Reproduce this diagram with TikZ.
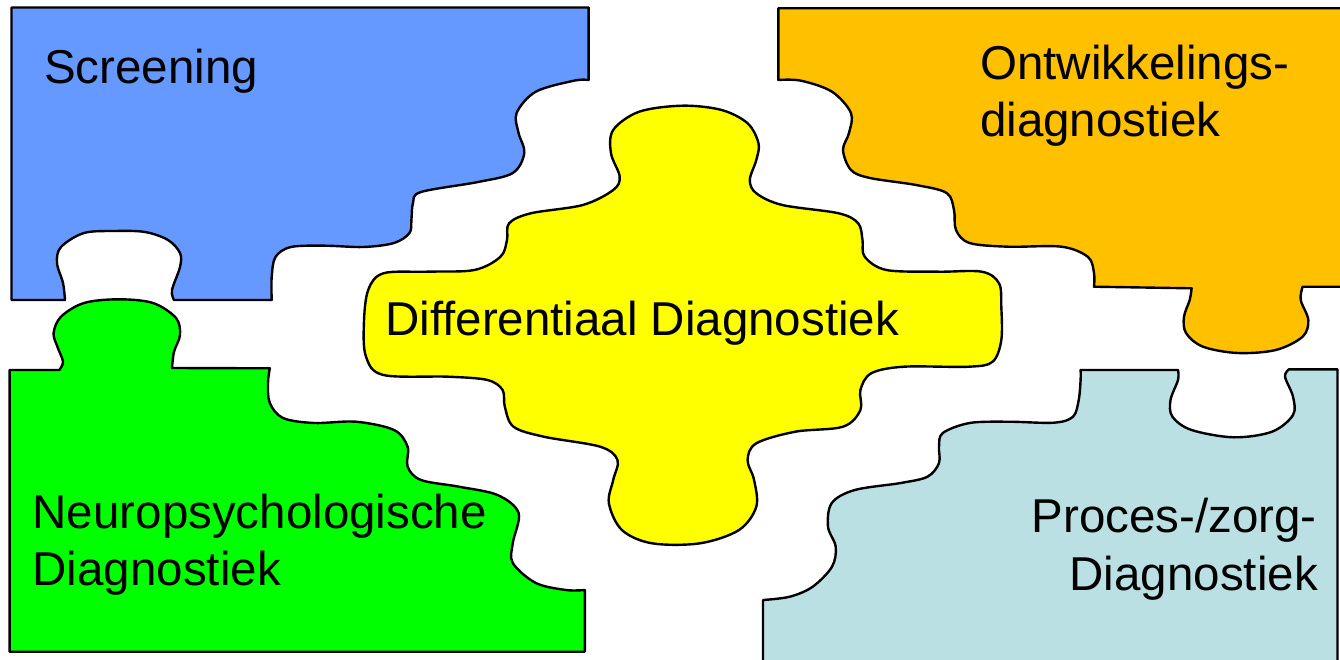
\documentclass[tikz,border=0pt]{standalone}
\usepackage{fontspec}
\setmainfont{Liberation Sans}
\definecolor{pblue}{HTML}{6699FF}
\definecolor{porange}{HTML}{FFC000}
\definecolor{pgreen}{HTML}{00FF00}
\definecolor{pyellow}{HTML}{FFFF00}
\definecolor{plight}{HTML}{BBE0E3}
\begin{document}
\begin{tikzpicture}[x=1pt,y=-1pt,
  piece/.style={draw=black,line width=2.4pt,line join=round},
  wave/.style={smooth,tension=0.55},
  lbl/.style={inner sep=0pt,font=\fontsize{47.5}{57}\selectfont}]
\useasboundingbox (0,0) rectangle (1340,660);
% blue: Screening
\draw[piece,fill=pblue] (11.5,7.5) -- (588.6,7.5) -- (588.6,80)
  -- plot[wave] coordinates {(588.6,80) (574,80.7) (535.8,91.7) (516.6,113) (518.6,133) (524.3,153) (512.8,173) (478,182) (421,192) (413,203) (411.4,220) (409.5,233) (394,243) (363.6,247) (325,245.7) (291,247) (275.5,257) (271.7,277) (271.7,300)}
  -- (174,300)
  -- plot[wave] coordinates {(174,300) (172,290) (180,267) (180,253) (168,240) (145,232) (115,231) (84,233) (61,247) (57,263) (63,283) (65,300)}
  -- (11.5,300) -- cycle;
% green: Neuropsychologische
\draw[piece,fill=pgreen] (9.6,651.7) -- (9.6,370) -- (59.3,370)
  -- plot[wave] coordinates {(59.3,370) (63,361.7) (57.4,346.7) (53.6,333) (61,316.7) (84,303) (118.6,299.3) (153,303) (176,318) (180,335) (174,351.7) (172,368)}
  -- (269.8,368.3)
  -- plot[wave] coordinates {(269.8,368.3) (268,383) (269.8,403) (283,418) (314,423) (356,421.7) (394,430) (407.6,446.7) (407.6,466.7) (421,480) (459,486.7) (497.5,495) (518.6,513) (512.8,543) (512.8,563) (535.8,583) (566,590) (584.8,590)}
  -- (584.8,651.7) -- cycle;
% orange: Ontwikkelings-diagnostiek (runs past the right edge)
\draw[piece,fill=porange] (778.3,8.3) -- (1352,8.3) -- (1352,286.7) -- (1302.6,286.7)
  -- plot[wave] coordinates {(1302.6,286.7) (1300.7,300) (1308.3,320) (1302.6,336.7) (1275.8,350) (1237.5,353) (1203,346.7) (1186,333) (1184,316.7) (1189.7,300) (1191.6,288.3)}
  -- (1094,286.7)
  -- plot[wave] coordinates {(1094,286.7) (1094,273) (1088,257) (1061.5,246.7) (1008,246.7) (969.6,243) (956,230) (954,210) (946.7,193) (916,185) (870,178) (851,170) (843,150) (849,133) (851,113) (832,91.7) (801,80.7) (778.3,80)}
  -- cycle;
% light blue: Proces-/zorg-Diagnostiek
\draw[piece,fill=plight] (763,670) -- (763,600)
  -- plot[wave] coordinates {(763,600) (789.8,596.7) (812.7,586.7) (832,566.7) (835.7,546.7) (828,526.7) (831.8,503) (854.8,490) (900.7,483) (927.5,476.7) (939,463) (939,446.7) (942.8,433) (969.6,423) (1008,421.7) (1053.8,422.7) (1073,416.7) (1078.7,400) (1080.6,380) (1080.6,370)}
  -- (1178,370)
  -- plot[wave] coordinates {(1178,370) (1178,380) (1170.5,400) (1172.4,416.7) (1191.6,430) (1233.7,437.3) (1272,431.7) (1293,415) (1293,396.7) (1285,376.7) (1289,369.3)}
  -- (1337.5,369.3) -- (1337.5,670);
% yellow: Differentiaal Diagnostiek
\draw[piece,fill=pyellow] plot[smooth cycle,tension=0.55] coordinates {
  (682.6,105.7) (721.6,110) (747.6,123.3) (758.5,143.3) (756.3,160) (749.8,180) (756.3,193.3) (782.3,205) (838.7,213.3) (858.2,223.3) (862.5,240) (864.7,256.7) (886.4,270) (938.4,271.7) (981.8,271.7) (999,283.3) (1001.3,306.7) (1001.3,340) (992.6,361.7) (968.8,366.7) (903.8,366.7) (871.2,373.3) (860.4,390) (860.4,410) (843,426.7) (795.3,431.7) (756.3,443.3) (747.6,460) (754.1,480) (756.3,506.7) (739,530) (700,543.3) (652,543.3) (621.9,530) (608.9,503.3) (613.2,480) (617.5,460) (600.2,446.7) (543.8,436.7) (513.5,426.7) (504.8,406.7) (502.6,390) (487.4,380) (448.4,376.7) (383.4,375) (366,356.7) (363.9,323.3) (368.2,290) (383.4,273.3) (426.7,271.7) (474.4,270) (500.5,256.7) (507,240) (509.1,223.3) (530.8,213.3) (582.8,205) (613.2,190) (619.7,176.7) (611,153.3) (613.2,130) (639.2,111.7)};
% labels
\node[lbl,anchor=base west] (scr) at (44,84) {Screening};
\node[lbl,anchor=base west] (ont1) at (980,80) {Ontwikkelings-};
\node[lbl,anchor=base west] (ont2) at (980,137) {diagnostiek};
\node[lbl,anchor=base west] (dif) at (385,335) {Differentiaal Diagnostiek};
\node[lbl,anchor=base west] (neu1) at (32.5,528) {Neuropsychologische};
\node[lbl,anchor=base west] (neu2) at (32.5,585) {Diagnostiek};
\node[lbl,anchor=base east] (pro1) at (1317,532) {Proces-/zorg-};
\node[lbl,anchor=base east] (pro2) at (1318,590) {Diagnostiek};
\end{tikzpicture}
\end{document}
